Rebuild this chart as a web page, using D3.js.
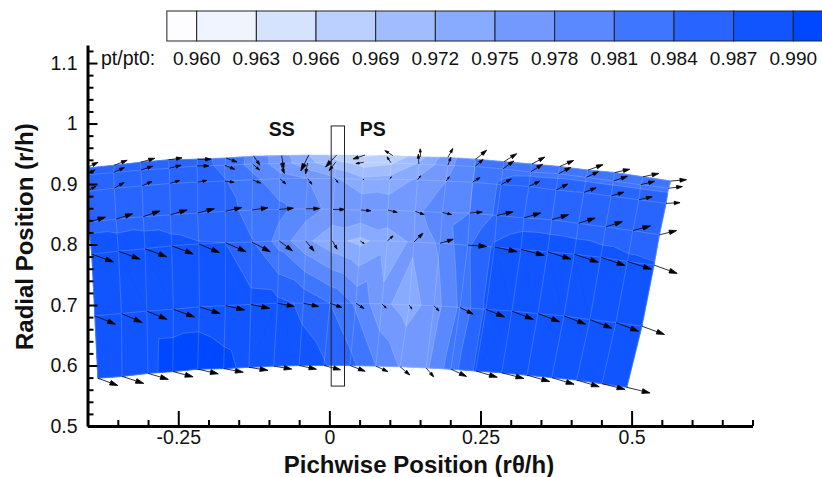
<!DOCTYPE html>
<html><head><meta charset="utf-8">
<script src="https://cdn.jsdelivr.net/npm/d3@7"></script>
<style>html,body{margin:0;padding:0;background:#fff}svg{display:block}text{font-family:"Liberation Sans",Arial,sans-serif;fill:#111}</style>
</head><body><svg id="c" width="822" height="477"></svg>
<script>
const levels=[0.960,0.963,0.966,0.969,0.972,0.975,0.978,0.981,0.984,0.987,0.990];
const levelColors=["#f0f4ff","#d6e3ff","#bbd0ff","#a2bdff","#88abff","#7399ff","#5a88ff","#3f76ff","#2865ff","#1055ff","#0048ff"];
const belowColor="#fdfdff";
const xMajor=[-0.25,0,0.25,0.5];
const yMajor=[0.5,0.6,0.7,0.8,0.9,1,1.1];
const meshPitch=[
[-0.404,-0.356,-0.312,-0.266,-0.218,-0.171,-0.125,-0.079,-0.034,0.012,0.059,0.105,0.151,0.196,0.242,0.289,0.335,0.381,0.428,0.472,0.519,0.565],
[-0.404,-0.357,-0.312,-0.265,-0.219,-0.173,-0.127,-0.081,-0.036,0.011,0.057,0.102,0.148,0.196,0.241,0.287,0.333,0.379,0.425,0.470,0.515,0.561],
[-0.401,-0.356,-0.310,-0.264,-0.218,-0.173,-0.127,-0.082,-0.036,0.009,0.055,0.100,0.146,0.193,0.237,0.284,0.330,0.375,0.421,0.466,0.512,0.557],
[-0.399,-0.353,-0.308,-0.263,-0.218,-0.172,-0.128,-0.083,-0.039,0.006,0.052,0.097,0.142,0.187,0.232,0.277,0.322,0.368,0.412,0.457,0.502,0.546],
[-0.393,-0.349,-0.305,-0.261,-0.216,-0.172,-0.128,-0.083,-0.039,0.005,0.051,0.096,0.140,0.183,0.229,0.273,0.317,0.361,0.405,0.449,0.493,0.537],
[-0.388,-0.344,-0.302,-0.258,-0.215,-0.172,-0.130,-0.086,-0.043,0.001,0.044,0.087,0.132,0.173,0.216,0.259,0.302,0.345,0.388,0.431,0.474,0.517],
[-0.383,-0.343,-0.300,-0.259,-0.218,-0.175,-0.133,-0.092,-0.050,-0.009,0.034,0.077,0.117,0.160,0.201,0.242,0.285,0.327,0.368,0.409,0.451,0.492]];
const meshRadius=[
[0.926,0.931,0.936,0.940,0.941,0.943,0.946,0.947,0.948,0.948,0.948,0.947,0.945,0.944,0.941,0.937,0.933,0.929,0.923,0.919,0.912,0.905],
[0.915,0.919,0.923,0.926,0.930,0.931,0.933,0.934,0.935,0.937,0.936,0.935,0.933,0.931,0.929,0.925,0.920,0.917,0.911,0.905,0.899,0.893],
[0.888,0.893,0.897,0.901,0.903,0.905,0.907,0.909,0.909,0.909,0.908,0.908,0.907,0.905,0.903,0.899,0.896,0.890,0.886,0.880,0.874,0.868],
[0.837,0.842,0.846,0.849,0.852,0.855,0.857,0.858,0.859,0.858,0.857,0.857,0.855,0.853,0.852,0.848,0.844,0.841,0.835,0.829,0.823,0.816],
[0.784,0.789,0.793,0.798,0.801,0.803,0.804,0.806,0.806,0.806,0.806,0.806,0.804,0.802,0.799,0.796,0.792,0.788,0.784,0.779,0.772,0.766],
[0.682,0.686,0.690,0.693,0.697,0.699,0.701,0.703,0.703,0.703,0.703,0.702,0.700,0.699,0.696,0.693,0.690,0.686,0.682,0.676,0.671,0.665],
[0.579,0.582,0.587,0.590,0.594,0.595,0.597,0.599,0.600,0.600,0.600,0.599,0.598,0.596,0.594,0.591,0.588,0.584,0.580,0.576,0.570,0.564]];
const ptRatio=[
[0.9840,0.9842,0.9845,0.9848,0.9850,0.9830,0.9800,0.9762,0.9720,0.9675,0.9655,0.9665,0.9710,0.9765,0.9812,0.9825,0.9825,0.9825,0.9824,0.9823,0.9822,0.9820],
[0.9845,0.9850,0.9850,0.9852,0.9852,0.9832,0.9800,0.9765,0.9730,0.9695,0.9675,0.9685,0.9725,0.9770,0.9810,0.9830,0.9834,0.9834,0.9834,0.9834,0.9834,0.9834],
[0.9850,0.9855,0.9858,0.9858,0.9855,0.9842,0.9818,0.9790,0.9780,0.9755,0.9725,0.9730,0.9755,0.9780,0.9810,0.9845,0.9855,0.9855,0.9856,0.9856,0.9856,0.9856],
[0.9860,0.9860,0.9862,0.9862,0.9860,0.9855,0.9825,0.9818,0.9795,0.9770,0.9778,0.9770,0.9775,0.9793,0.9810,0.9845,0.9855,0.9855,0.9855,0.9855,0.9855,0.9855],
[0.9888,0.9883,0.9880,0.9875,0.9871,0.9870,0.9842,0.9798,0.9757,0.9730,0.9712,0.9735,0.9755,0.9785,0.9835,0.9875,0.9890,0.9888,0.9885,0.9880,0.9875,0.9872],
[0.9880,0.9885,0.9890,0.9890,0.9890,0.9885,0.9880,0.9878,0.9865,0.9840,0.9805,0.9758,0.9735,0.9766,0.9815,0.9875,0.9890,0.9890,0.9890,0.9890,0.9890,0.9890],
[0.9880,0.9885,0.9892,0.9912,0.9915,0.9908,0.9892,0.9888,0.9880,0.9873,0.9850,0.9810,0.9778,0.9774,0.9825,0.9875,0.9888,0.9888,0.9888,0.9888,0.9888,0.9888]];
const velU=[
[13,13,14,13.5,13.5,11,6,2,-8,-11,-12,-8,-0.5,5,11,12.7,13,14,15,15,15.7,15.7],
[10,11,12,12,12,10,7,4,-2,-7,-8,-4,-0.5,3,8,11,12,12.3,12.3,14,14,14],
[9,10,10,10,9.3,9.3,8,6,4.3,3.3,1.5,1.5,3,3.3,7.3,10.3,11,11.7,12.3,12.7,13.3,14],
[17.3,16.7,16.7,16.7,16.7,16.3,16,14.3,13.7,11.7,10,9.3,9,9.3,12.7,16.3,16.7,16.7,16.7,16.7,17.7,17.3],
[21.7,21.7,21.7,21.7,20.7,20.7,18.3,13.3,8.3,4.7,4,5.7,9,13.3,19,22.7,23.3,23.3,24,24.3,24,23.3],
[20.7,20.7,20.3,21,20.7,19.3,19,17,15.3,12,8,4.3,2.7,5,13.3,18.7,21.3,21.7,21.7,22,22.7,22.7],
[20,21.7,20.3,20.3,20.7,19.7,19,18,17.3,16.7,15.3,12,9.7,7.7,15.7,21.7,22.3,22.7,22.3,22.7,23,23.3]];
const velV=[
[6,5,4,2,0,-4,-9,-13,-16,-12,-4,5,8,9,9,8,7,6,5.5,3.3,3.3,1.3],
[5,5,4,3,0,-4,-6,-10,-11,-9,-1.3,6,10,8,7,8,7.7,6.3,5.7,4.7,3.3,1.7],
[5,5.7,4.3,3,1.7,-1.3,-3.3,-5.3,-5.7,-4,-0.5,2.5,4,4.3,4.7,5.7,5.3,6,4.7,4,3,0.7],
[5,5.3,5.7,5,4.3,3.7,2.3,1.3,0.3,0,-0.7,-2.3,-3.3,-2,1,3.7,5,5,5.3,5.3,4.7,4.3],
[-7.7,-8,-8,-8.3,-8.7,-9,-9.7,-10,-10.3,-8.3,-2.7,5,9,4,-1.3,-4.7,-6,-7.3,-8,-8.3,-7.7,-8.3],
[-8.3,-9,-8.3,-7.7,-6.7,-4.3,-4,-3.3,-3.3,-4.3,-5.3,-4.3,-4,-5.3,-6.7,-7.7,-8.3,-8.3,-8.3,-8.7,-8.7,-8.3],
[-7.3,-7,-6,-5.3,-4.7,-3.7,-3,-3,-3.7,-4.3,-5.7,-5.5,-8.3,-9,-7.3,-6.3,-5.7,-6.3,-6.7,-6.7,-5.7,-5.7]];
const sensorBox={x0:0.003,x1:0.025,y0:0.566,y1:0.996};

const svg=d3.select("#c");
const x=d3.scaleLinear().domain([-0.4,0.7]).range([87.6,752.5]);
const y=d3.scaleLinear().domain([0.5,1.13]).range([426,44.9]);
const velK=1/604.5;
const defs=svg.append("defs");
defs.append("clipPath").attr("id","plot").append("rect").attr("x",87).attr("y",44).attr("width",735).attr("height",383);
const g=svg.append("g").attr("clip-path","url(#plot)");

const tris=[];
const node=(r,c)=>({p:[x(meshPitch[r][c]),y(meshRadius[r][c])],v:ptRatio[r][c]});
for(let r=0;r<6;r++)for(let c=0;c<21;c++){
  const a=node(r,c),b=node(r,c+1),d=node(r+1,c+1),e=node(r+1,c);
  if(a.v+d.v>=b.v+e.v)tris.push([a,b,d],[a,d,e]);
  else tris.push([a,b,e],[b,d,e]);
}
const lerp=(A,B,t)=>({p:[A.p[0]+(B.p[0]-A.p[0])*t,A.p[1]+(B.p[1]-A.p[1])*t],v:A.v+(B.v-A.v)*t});
function clip(poly,t){
  const out=[];
  poly.forEach((A,i)=>{const B=poly[(i+1)%poly.length];
    if(A.v>=t)out.push(A);
    if((A.v>=t)!==(B.v>=t))out.push(lerp(A,B,(t-A.v)/(B.v-A.v)));});
  return out;
}
levels.forEach((t,i)=>{
  const path=d3.path();
  tris.forEach(tr=>{const q=clip(tr,t);if(q.length<3)return;
    path.moveTo(q[0].p[0],q[0].p[1]);q.slice(1).forEach(n=>path.lineTo(n.p[0],n.p[1]));path.closePath();});
  g.append("path").attr("d",path.toString()).attr("fill",levelColors[i]).attr("stroke",levelColors[i]).attr("stroke-width",0.25);
});
const iso=d3.path();
levels.forEach(t=>tris.forEach(tr=>{
  const pts=[];
  tr.forEach((A,i)=>{const B=tr[(i+1)%3];if((A.v>=t)!==(B.v>=t))pts.push(lerp(A,B,(t-A.v)/(B.v-A.v)));});
  if(pts.length===2){iso.moveTo(pts[0].p[0],pts[0].p[1]);iso.lineTo(pts[1].p[0],pts[1].p[1]);}
}));
g.append("path").attr("d",iso.toString()).attr("fill","none").attr("stroke","#fff").attr("stroke-opacity",0.24).attr("stroke-width",0.8);
const line=d3.line();
const gridPaths=[];
meshPitch.forEach((row,r)=>gridPaths.push(row.map((_,c)=>node(r,c).p)));
meshPitch[0].forEach((_,c)=>gridPaths.push(meshPitch.map((_,r)=>node(r,c).p)));
g.append("g").selectAll("path").data(gridPaths).join("path").attr("d",line).attr("fill","none")
 .attr("stroke","#fff").attr("stroke-opacity",0.22).attr("stroke-width",0.8);
const arrows=[];
meshPitch.forEach((row,r)=>row.forEach((px,c)=>{
  arrows.push({t:[x(px),y(meshRadius[r][c])],h:[x(px+velU[r][c]*velK),y(meshRadius[r][c]+velV[r][c]*velK)]});
}));
const ag=g.append("g");
ag.selectAll("path").data(arrows).join("path").attr("fill","#000").attr("stroke","#000").attr("stroke-width",0.8)
 .attr("d",a=>{
   const dx=a.h[0]-a.t[0],dy=a.h[1]-a.t[1],L=Math.hypot(dx,dy)||1,ux=dx/L,uy=dy/L;
   const hl=Math.min(8,L*0.42),hw=hl*0.3;
   const bx=a.h[0]-ux*hl,by=a.h[1]-uy*hl;
   return `M${a.t[0]},${a.t[1]}L${bx},${by}M${a.h[0]},${a.h[1]}L${bx-uy*hw},${by+ux*hw}L${bx+uy*hw},${by-ux*hw}Z`;
 });
svg.append("rect").attr("x",x(sensorBox.x0)).attr("y",y(sensorBox.y1)).attr("width",x(sensorBox.x1)-x(sensorBox.x0))
 .attr("height",y(sensorBox.y0)-y(sensorBox.y1)).attr("fill","none").attr("stroke","#222").attr("stroke-width",1);
svg.append("text").attr("x",x(-0.0786)).attr("y",y(0.98)).attr("text-anchor","middle").attr("font-weight","bold").attr("font-size",19.5).text("SS");
svg.append("text").attr("x",x(0.0719)).attr("y",y(0.98)).attr("text-anchor","middle").attr("font-weight","bold").attr("font-size",19.5).text("PS");

function styleAxis(a){
  a.select(".domain").attr("stroke","#000").attr("stroke-width",3);
  a.selectAll(".tick line").attr("stroke","#000").attr("stroke-width",2);
  a.selectAll("text").attr("font-size",19.5).attr("fill","#111");
}
const xTicks=d3.range(-7,15).map(i=>+(i*0.05).toFixed(2));
const yTicks=d3.range(0,32).map(i=>+(0.5+i*0.02).toFixed(2));
const isMaj=(arr,v)=>arr.some(m=>Math.abs(m-v)<1e-6);
const xA=svg.append("g").attr("transform","translate(0,426)").call(d3.axisBottom(x).tickValues(xTicks).tickSizeOuter(0).tickSizeInner(-6).tickPadding(4)
 .tickFormat(v=>isMaj(xMajor,v)?String(v):""));
styleAxis(xA);
xA.selectAll(".tick").filter(v=>isMaj(xMajor,v)).select("line").attr("y2",-15);
const yA=svg.append("g").attr("transform","translate(87.5,0)").call(d3.axisLeft(y).tickValues(yTicks).tickSizeOuter(0).tickSizeInner(-6).tickPadding(10)
 .tickFormat(v=>isMaj(yMajor,v)?String(v):""));
styleAxis(yA);
yA.selectAll(".tick").filter(v=>isMaj(yMajor,v)).select("line").attr("x2",10);
svg.append("text").attr("x",419).attr("y",473).attr("text-anchor","middle").attr("font-weight","bold").attr("font-size",24).text("Pichwise Position (rθ/h)");
svg.append("text").attr("transform","translate(33,350) rotate(-90)").attr("font-weight","bold").attr("font-size",24).text("Radial Position (r/h)");

const lx=d3.scaleLinear().domain([0.96,0.99]).range([196.7,793.3]);
const edges=[0.9585].concat(levels,[0.9915]);
const lg=svg.append("g");
lg.selectAll("rect").data(edges.slice(0,-1)).join("rect").attr("x",d=>lx(d)).attr("y",11).attr("height",30)
 .attr("width",(d,i)=>lx(edges[i+1])-lx(d)).attr("fill",(d,i)=>i===0?belowColor:levelColors[i-1]).attr("stroke","#222").attr("stroke-width",1);
lg.selectAll("text").data(levels).join("text").attr("x",d=>lx(d)).attr("y",64.5).attr("text-anchor","middle").attr("font-size",19).text(d=>d.toFixed(3));
svg.append("text").attr("x",101).attr("y",64.5).attr("font-size",19.5).text("pt/pt0:");
</script></body></html>
